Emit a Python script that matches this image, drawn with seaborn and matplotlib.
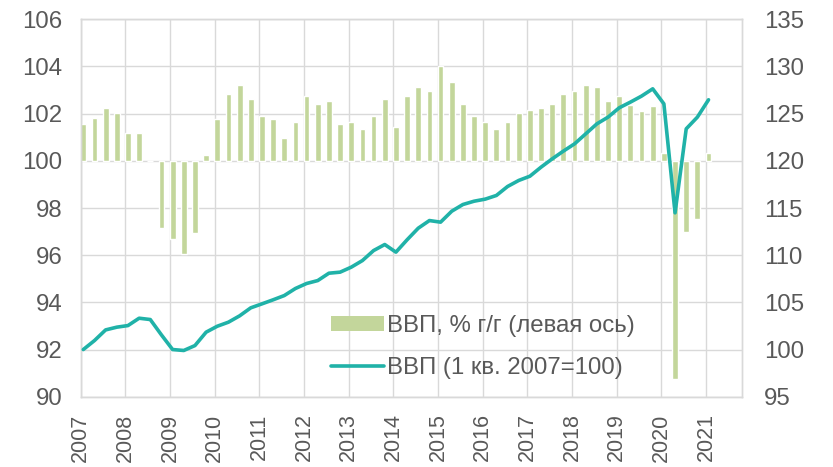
import numpy as np
import pandas as pd
import matplotlib
matplotlib.use("Agg")
import matplotlib.pyplot as plt
from matplotlib.ticker import FuncFormatter, FixedLocator
from matplotlib.patches import Patch
from matplotlib.lines import Line2D
import seaborn as sns

# Quarterly data 2007Q1 .. 2021Q1
years = [str(y) for y in range(2007, 2022)]
gdp_yoy = [101.54, 101.82, 102.25, 102.02, 101.16, 101.16, 100.0, 97.16,
           96.67, 96.07, 96.95, 100.24, 101.77, 102.84, 103.22, 102.63,
           101.92, 101.77, 100.95, 101.64, 102.73, 102.42, 102.53, 101.54,
           101.65, 101.33, 101.92, 102.63, 101.43, 102.74, 103.12, 102.97,
           104.04, 103.33, 102.40, 101.92, 101.65, 101.33, 101.65, 102.02,
           102.15, 102.25, 102.40, 102.84, 102.95, 103.23, 103.12, 102.53,
           102.73, 102.37, 102.13, 102.34, 100.34, 90.75, 96.99, 97.54,
           100.34]
gdp_index = [100.0, 100.95, 102.08, 102.37, 102.54, 103.32, 103.18, 101.55,
             100.0, 99.9, 100.42, 101.84, 102.47, 102.9, 103.57, 104.42,
             104.84, 105.27, 105.72, 106.47, 107.0, 107.31, 108.09, 108.2,
             108.73, 109.43, 110.49, 111.13, 110.32, 111.63, 112.86, 113.67,
             113.5, 114.66, 115.37, 115.72, 115.94, 116.33, 117.28, 117.92,
             118.37, 119.33, 120.21, 121.03, 121.8, 122.86, 123.92, 124.63,
             125.62, 126.22, 126.86, 127.63, 126.04, 114.49, 123.39, 124.63,
             126.47]
label_bar = "ВВП, % г/г (левая ось)"
label_line = "ВВП (1 кв. 2007=100)"

BASE = 100
bar_color = "#c3d69b"
line_color = "#20b2a8"
text_color = "#595959"
grid_color = "#d9d9d9"
FS = 17.3
FSX = 15.5

df = pd.DataFrame({
    "q": np.arange(len(gdp_yoy)),
    "yoy": np.array(gdp_yoy) - BASE,
    "idx": gdp_index,
})

sns.set_style("white")
plt.rcParams["font.family"] = ["Liberation Sans", "DejaVu Sans"]
plt.rcParams["font.size"] = FS

fig = plt.figure(figsize=(8.33, 4.67), dpi=100)
ax = fig.add_axes([0.0969, 0.1505, 0.8908 - 0.0969, 0.8082])

sns.barplot(data=df, x="q", y="yoy", native_scale=True, width=0.52,
            color=bar_color, saturation=1, ax=ax, zorder=2)

ax2 = ax.twinx()
sns.lineplot(data=df, x="q", y="idx", color=line_color, linewidth=2.6,
             ax=ax2, zorder=3)

off = -0.23
ax.set_xlim(off, 59.0)
ax.xaxis.set_major_locator(FixedLocator([4 * k + off for k in range(len(years))]))
ax.set_xticklabels(years, rotation=90)
ax.set_ylim(-10, 6)
ax.set_yticks(np.arange(-10, 7, 2))
ax.yaxis.set_major_formatter(FuncFormatter(lambda v, p: f"{v + BASE:.0f}"))
ax2.set_ylim(95, 135)
ax2.set_yticks(np.arange(95, 136, 5))

ax.set_xlabel("")
ax.set_ylabel("")
ax2.set_ylabel("")

ax.grid(True, color=grid_color, linewidth=1, zorder=0)
ax.set_axisbelow(True)
for a in (ax, ax2):
    for s in a.spines.values():
        s.set_color(grid_color)
        s.set_linewidth(1)
    a.tick_params(length=0, colors=text_color, labelsize=FS)
ax.tick_params(axis="y", pad=13)
ax.tick_params(axis="x", pad=12, labelsize=FSX)
ax2.tick_params(axis="y", pad=16)

handles = [Patch(facecolor=bar_color, edgecolor="none"),
           Line2D([0], [0], color=line_color, linewidth=2.6)]
leg = ax2.legend(handles, [label_bar, label_line], loc="upper left",
                 bbox_to_anchor=(0.397, 0.326), bbox_transform=fig.transFigure,
                 frameon=False, handlelength=2.2, handleheight=0.6,
                 handletextpad=0.15, labelspacing=0.85, borderpad=0,
                 borderaxespad=0, fontsize=FS)
for t in leg.get_texts():
    t.set_color(text_color)

fig.savefig("out.png", dpi=100)
